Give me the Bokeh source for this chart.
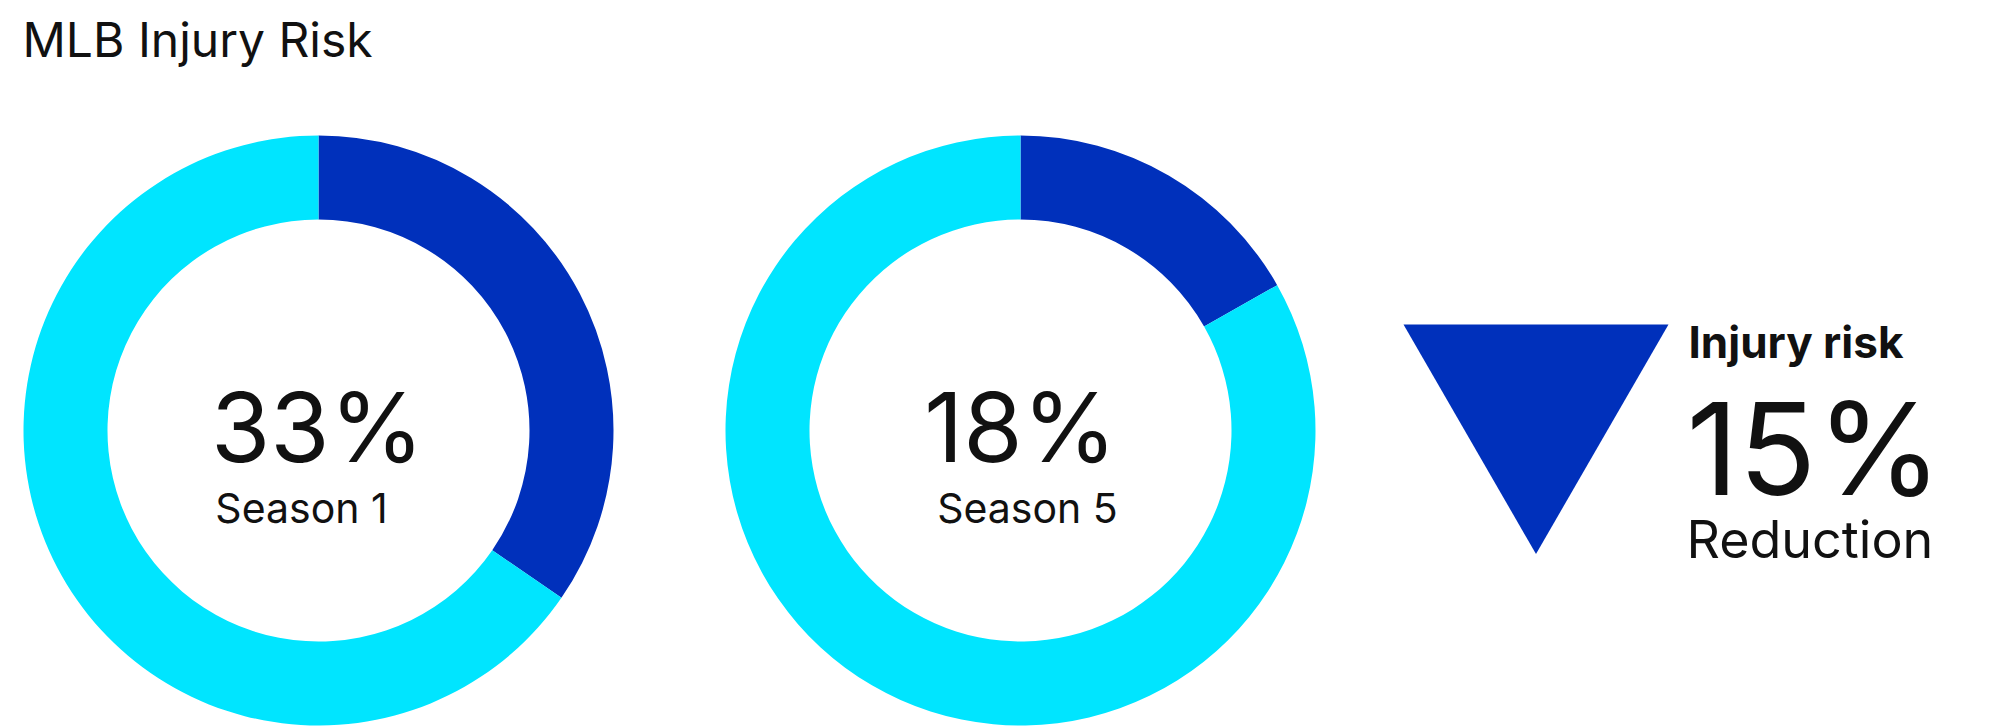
from math import pi
from bokeh.plotting import figure
from bokeh.models import Range1d, ColumnDataSource
from bokeh.core.properties import value
from bokeh.embed import file_html
from bokeh.resources import INLINE

# ---- data ----
title = "MLB Injury Risk"
seasons = ["Season 1", "Season 5"]
risk_labels = ["33%", "18%"]
risk_share = [0.346, 0.168]          # blue share of each ring as drawn
reduction_label = "15%"
reduction_title = "Injury risk"
reduction_sub = "Reduction"

BLUE = "#0030BB"
CYAN = "#00E5FF"
INK = "#111111"
FONT = "Inter"
K = 0.37   # baseline correction (em)

W, H = 1999, 728
p = figure(width=W, height=H, output_backend="svg", toolbar_location=None,
           x_range=Range1d(0, W), y_range=Range1d(0, H),
           min_border=0, outline_line_color=None, background_fill_color="white")
p.axis.visible = False
p.grid.visible = False

def Y(page_y):
    return H - page_y

def TY(baseline, size):
    return Y(baseline - K * size)

centers_x = [318, 1020]
center_y = Y(430)
R_out, R_in = 295, 211

blue_start, blue_end, cyan_start, cyan_end = [], [], [], []
for s in risk_share:
    a0 = pi / 2
    a1 = pi / 2 - s * 2 * pi
    blue_start.append(a0); blue_end.append(a1)
    cyan_start.append(a1); cyan_end.append(pi / 2 - 2 * pi + 1e-9)

src = ColumnDataSource(dict(x=centers_x, y=[center_y] * 2,
                            bs=blue_start, be=blue_end, cs=cyan_start, ce=cyan_end))
p.annular_wedge(x="x", y="y", inner_radius=R_in, outer_radius=R_out,
                start_angle="bs", end_angle="be", direction="clock",
                fill_color=BLUE, line_color=None, source=src)
p.annular_wedge(x="x", y="y", inner_radius=R_in, outer_radius=R_out,
                start_angle="cs", end_angle="ce", direction="clock",
                fill_color=CYAN, line_color=None, source=src)

# center labels
p.text(x=[317, 1020], y=[TY(462, 96)] * 2, text=risk_labels, text_align="center",
       text_baseline="alphabetic", text_font=value(FONT), text_font_size="96px",
       text_color=INK)
p.text(x=[301, 1027], y=[TY(523, 41)] * 2, text=seasons, text_align="center",
       text_baseline="alphabetic", text_font=value(FONT), text_font_size="41px",
       text_color=INK)

# reduction indicator
p.scatter(x=[1535.5], y=[Y(400.5)], marker="inverted_triangle", size=265,
          fill_color=BLUE, line_color=None)
p.text(x=[1688], y=[TY(358, 44)], text=[reduction_title], text_baseline="alphabetic",
       text_font=value(FONT), text_font_size="44px", text_font_style="bold",
       text_color=INK)
p.text(x=[1686], y=[TY(495, 128)], text=[reduction_label], text_baseline="alphabetic",
       text_font=value(FONT), text_font_size="128px", text_color=INK)
p.text(x=[1686], y=[TY(558, 52)], text=[reduction_sub], text_baseline="alphabetic",
       text_font=value(FONT), text_font_size="52px", text_color=INK)

# title
p.text(x=[22], y=[TY(57, 48)], text=[title], text_baseline="alphabetic",
       text_font=value(FONT), text_font_size="48px", text_color=INK)

open("out.html", "w").write(file_html(p, INLINE))
